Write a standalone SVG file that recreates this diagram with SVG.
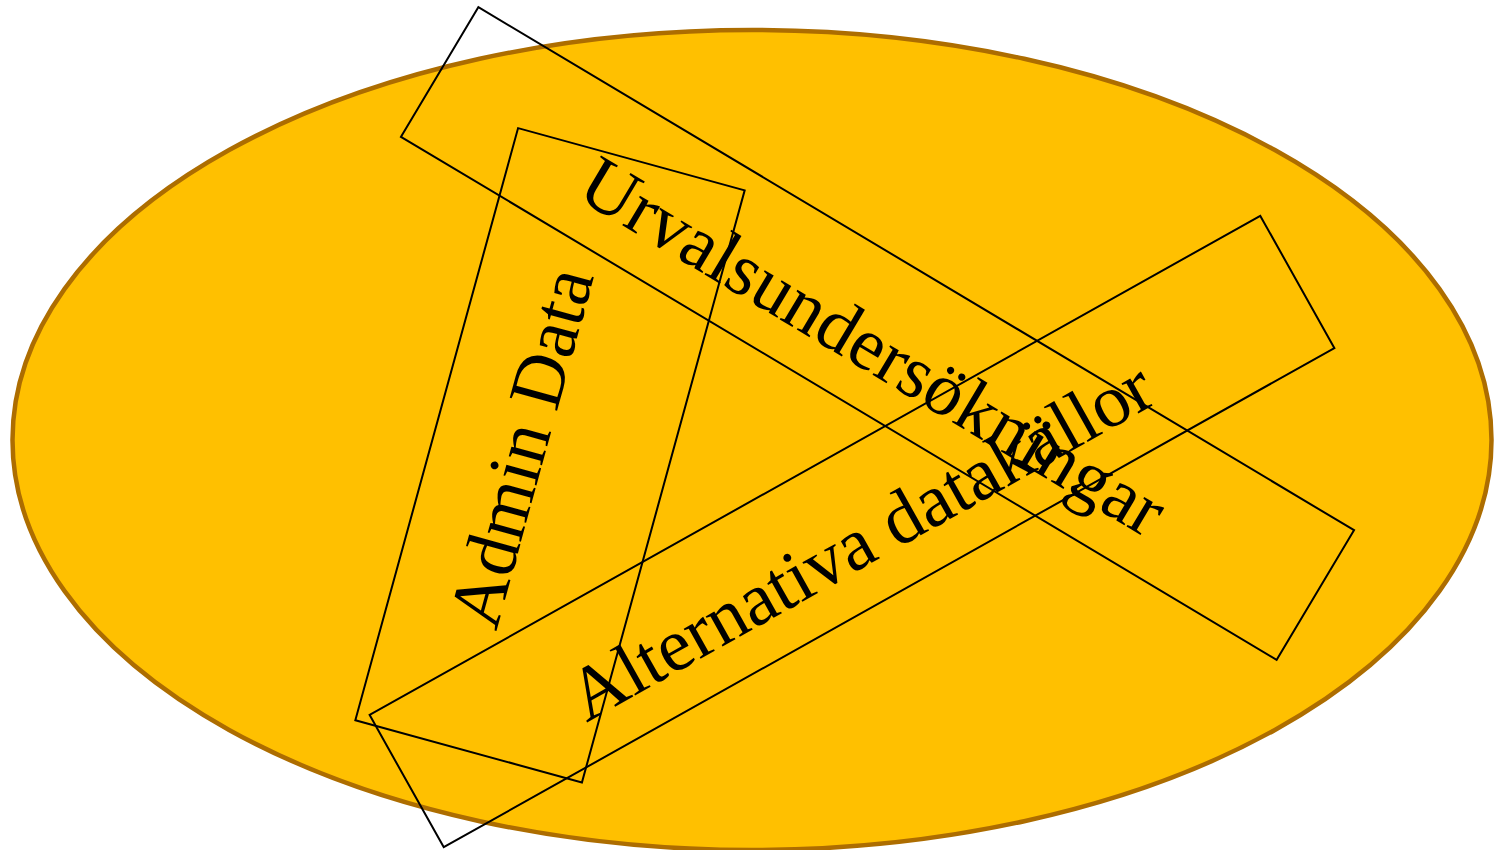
<svg xmlns="http://www.w3.org/2000/svg" width="1495" height="850" viewBox="0 0 1495 850">
<style>
.bg{fill:#FFC000;stroke:#AD6D00;stroke-width:4.5}
.box{fill:none;stroke:#000;stroke-width:2}
.lbl{font-family:"Liberation Serif","Times New Roman",serif;font-size:75px;fill:#000;text-anchor:middle}
</style>
<rect width="1495" height="850" fill="#fff"/>
<g id="background">
<ellipse class="bg" cx="752" cy="440" rx="739.5" ry="410"/>
</g>
<g id="node-urval" transform="translate(877.5,333.5) rotate(30.85)">
<rect class="box" x="-510" y="-75.5" width="1020" height="151"/>
<text class="lbl" x="3" y="38">Urvalsundersökningar</text>
</g>
<g id="node-admin" transform="translate(550,455.3) rotate(-74.63)">
<rect class="box" x="-307" y="-117.5" width="614" height="235"/>
<text class="lbl" x="0" y="-5">Admin Data</text>
</g>
<g id="node-alt" transform="translate(852,531.5) rotate(-29.27)">
<rect class="box" x="-510.5" y="-75.8" width="1021" height="151.6"/>
<text class="lbl" x="3" y="37">Alternativa datakällor</text>
</g>
<g id="connectors"></g>
</svg>
